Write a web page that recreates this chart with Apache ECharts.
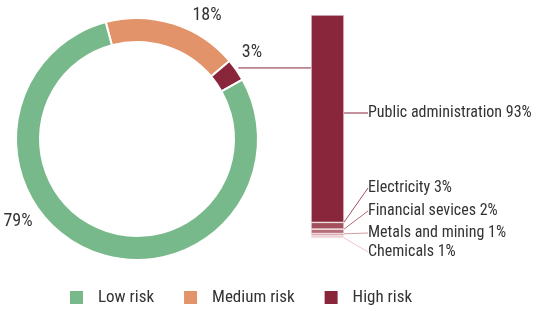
<!DOCTYPE html>
<html>
<head>
<meta charset="utf-8">
<script src="https://cdn.jsdelivr.net/npm/echarts@6/dist/echarts.min.js"></script>
<style>
  html, body { margin: 0; padding: 0; background: #fff; }
  #chart { width: 541px; height: 311px; }
</style>
</head>
<body>
<div id="chart"></div>
<script>
// donut: risk split (drawn clockwise starting at Medium risk)
const riskNames = ['Medium risk', 'High risk', 'Low risk']
const riskValues = [18, 3, 79]
const legendOrder = ['Low risk', 'Medium risk', 'High risk']

// stacked bar: breakdown of the high risk slice, top to bottom
const sectorNames = ['Public administration', 'Electricity', 'Financial sevices', 'Metals and mining', 'Chemicals']
const sectorValues = [93, 3, 2, 1, 1]

const riskColors = { 'Low risk': '#78B98B', 'Medium risk': '#E39369', 'High risk': '#8A263B' }
const sectorColors = ['#8A263B', '#A3505D', '#B56D78', '#D29CA4', '#E8C6CA']

const FONT = '"Roboto Condensed", Roboto, sans-serif'
const TEXT = '#333'

const pieCenter = [137, 139]
const pieRadius = [97, 121]
const startAngle = 105
const bar = { left: 311, top: 15, width: 33, height: 223 }
const sectorLabelY = [113, 188, 211, 233, 252]
const riskLabelPos = { 'Medium risk': [207, 15], 'High risk': [252, 52], 'Low risk': [18, 221] }

const total = riskValues.reduce((a, b) => a + b, 0)

// where the high risk slice sits, for the connector to the bar
function highRiskAnchor() {
  const idx = riskNames.indexOf('High risk')
  const before = riskValues.slice(0, idx).reduce((a, b) => a + b, 0)
  const mid = (before + riskValues[idx] / 2) / total * 360
  const a = (startAngle - mid) * Math.PI / 180
  return [pieCenter[0] + pieRadius[1] * Math.cos(a), pieCenter[1] - pieRadius[1] * Math.sin(a)]
}

const chart = echarts.init(document.getElementById('chart'))

// stack from the bottom up
const barSeries = sectorNames.map((name, i) => ({
  type: 'bar',
  name,
  stack: 'sector',
  data: [sectorValues[i]],
  barWidth: '100%',
  silent: true,
  itemStyle: { color: sectorColors[i], borderColor: '#f7e9eb', borderWidth: 0.6 },
  label: {
    show: true,
    position: 'right',
    formatter: name + ' {c}%',
    fontFamily: FONT,
    fontSize: 16,
    color: TEXT,
  },
  labelLayout: { x: 368, y: sectorLabelY[i], align: 'left', verticalAlign: 'middle' },
  labelLine: { show: true, lineStyle: { color: sectorColors[i], width: 1 } },
})).reverse()

const anchor = highRiskAnchor()

chart.setOption({
  animation: false,
  legend: {
    data: legendOrder,
    left: 68,
    top: 289,
    padding: 0,
    icon: 'rect',
    itemWidth: 15,
    itemHeight: 15,
    itemGap: 28,
    selectedMode: false,
    textStyle: { fontFamily: FONT, fontSize: 17, color: TEXT, padding: [0, 0, 0, 9] },
  },
  grid: { left: bar.left, top: bar.top, width: bar.width, height: bar.height },
  xAxis: { type: 'category', data: ['sector'], show: false },
  yAxis: { type: 'value', min: 0, max: 100, show: false },
  graphic: [
    {
      type: 'line',
      shape: { x1: anchor[0] + 2, y1: anchor[1] - 2, x2: bar.left, y2: anchor[1] - 2 },
      style: { stroke: '#8A263B', lineWidth: 1 },
      silent: true,
    },
  ],
  series: [
    {
      type: 'pie',
      center: pieCenter,
      radius: pieRadius,
      startAngle,
      clockwise: true,
      silent: true,
      data: riskNames.map((n, i) => ({ name: n, value: riskValues[i], itemStyle: { color: riskColors[n] } })),
      itemStyle: { borderColor: '#fff', borderWidth: 2 },
      label: {
        show: true,
        position: 'outside',
        formatter: '{c}%',
        fontFamily: FONT,
        fontSize: 18,
        color: TEXT,
      },
      labelLine: { show: false },
      labelLayout: (p) => {
        const pos = riskLabelPos[riskNames[p.dataIndex]]
        return { x: pos[0], y: pos[1], align: 'center', verticalAlign: 'middle' }
      },
    },
    ...barSeries,
  ],
})
</script>
</body>
</html>
